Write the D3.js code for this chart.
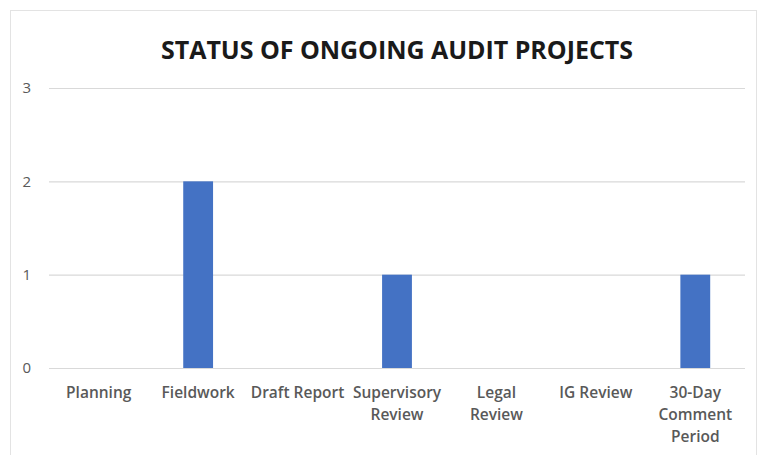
<!DOCTYPE html>
<html lang="en">
<head>
  <meta charset="UTF-8">
  <title>Status of Ongoing Audit Projects</title>
  <script src="https://d3js.org/d3.v7.min.js"></script>
  <style>
    body { margin: 0; background: #fff; }
    .axis text { font-family: "Open Sans", sans-serif; fill: #595959; }
  </style>
</head>
<body>
  <svg id="svg" width="759" height="455"></svg>
  <script>
    // data
    var categories = ['Planning', 'Fieldwork', 'Draft Report', 'Supervisory Review', 'Legal Review', 'IG Review', '30-Day Comment Period']
    var tickLabels = [['Planning'], ['Fieldwork'], ['Draft Report'], ['Supervisory', 'Review'], ['Legal', 'Review'], ['IG Review'], ['30-Day', 'Comment', 'Period']]
    var counts = [0, 2, 0, 1, 0, 0, 1]
    var yTicks = [0, 1, 2, 3]

    var margin = { top: 88, right: 14, bottom: 87, left: 49 }
    var width = 759 - margin.left - margin.right
    var height = 455 - margin.top - margin.bottom

    var svg = d3.select('#svg')

    // chart frame
    svg.append('rect')
      .attr('x', 10.5).attr('y', 10.5)
      .attr('width', 746).attr('height', 460)
      .attr('fill', '#fff')
      .attr('stroke', '#e3e3e3')

    svg.append('text')
      .attr('x', 397).attr('y', 59)
      .attr('text-anchor', 'middle')
      .attr('font-family', '"Open Sans", sans-serif')
      .attr('font-weight', 'bold')
      .attr('font-size', 25)
      .attr('textLength', 472)
      .attr('fill', '#1a1a1a')
      .text('STATUS OF ONGOING AUDIT PROJECTS')

    var g = svg.append('g')
      .attr('transform', 'translate(' + margin.left + ',' + margin.top + ')')

    var x = d3.scaleBand().domain(categories).range([0, width]).paddingInner(0.7).paddingOuter(0.35)
    var y = d3.scaleLinear().domain([0, 3]).range([height, 0])

    // gridlines
    g.append('g')
      .selectAll('line')
      .data(yTicks)
      .enter()
      .append('line')
      .attr('x1', 0).attr('x2', width)
      .attr('y1', d => y(d) + 0.5).attr('y2', d => y(d) + 0.5)
      .attr('stroke', '#d9d9d9')
      .attr('stroke-width', 1.2)

    // y axis labels
    var yAxis = d3.axisLeft(y).tickValues(yTicks).tickFormat(d3.format('d')).tickSize(0).tickPadding(18)
    g.append('g')
      .attr('class', 'axis')
      .call(yAxis)
      .call(a => a.select('.domain').remove())
      .selectAll('text')
      .attr('font-size', 15)

    // bars
    g.selectAll('rect.bar')
      .data(counts)
      .enter()
      .append('rect')
      .attr('class', 'bar')
      .attr('x', (d, i) => x(categories[i]))
      .attr('y', d => y(d))
      .attr('width', x.bandwidth())
      .attr('height', d => height - y(d))
      .attr('fill', '#4472c4')

    // x axis labels
    var xAxis = d3.axisBottom(x).tickSize(0).tickPadding(0)
    var xg = g.append('g')
      .attr('class', 'axis')
      .attr('transform', 'translate(0,' + height + ')')
      .call(xAxis)
    xg.select('.domain').remove()
    xg.selectAll('text')
      .attr('font-size', 15.5)
      .attr('font-weight', 600)
      .attr('dy', null)
      .attr('y', 30)
      .text(null)
      .each(function (d, i) {
        var t = d3.select(this)
        tickLabels[i].forEach((line, j) => {
          t.append('tspan')
            .attr('x', 0)
            .attr('y', 30 + j * 22)
            .text(line)
        })
      })
  </script>
</body>
</html>
